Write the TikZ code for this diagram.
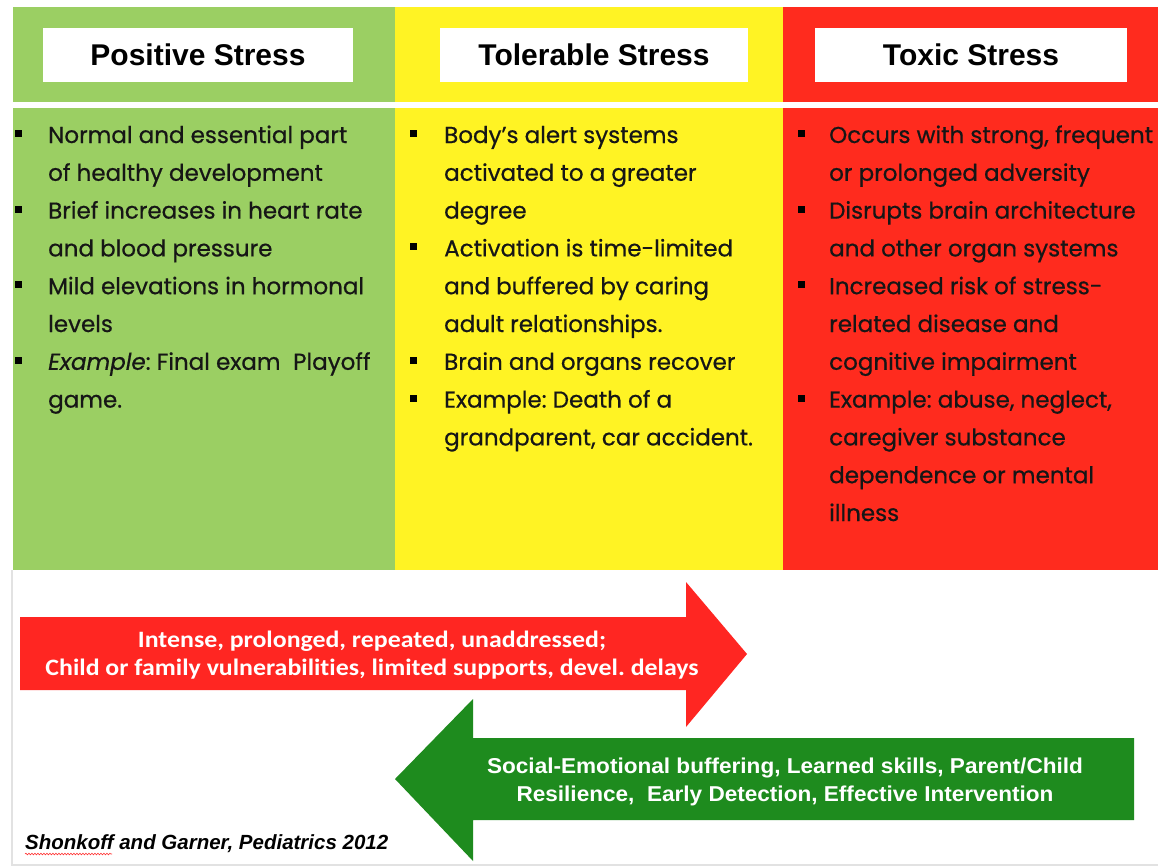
\documentclass[tikz,border=0pt]{standalone}
\usepackage{fontspec}
\setmainfont{Liberation Sans}
\newfontfamily\bodyfont{Poppins}[FakeBold=0.6]
\newfontfamily\arrowfont{Carlito}[FakeStretch=1.1,RawFeature=-liga]
\newfontfamily\garrowfont{Liberation Sans}[FakeStretch=1.05]
\usetikzlibrary{decorations.pathmorphing}
\definecolor{pgreen}{HTML}{9BCF63}
\definecolor{pyellow}{HTML}{FFF324}
\definecolor{pred}{HTML}{FF2B1E}
\definecolor{ared}{HTML}{FF2622}
\definecolor{agreen}{HTML}{1E8B1E}
\definecolor{txtdark}{HTML}{161616}
\definecolor{framegray}{HTML}{E2E2E2}
\newcommand\txtline[4]{\node[bodytxt] (#1) at (#2,{143+37.8*#3}) {#4};}
\newcommand\bulmark[3]{\node[bulbox] (#1) at (#2,{133.5+37.8*#3}) {};}
\frenchspacing
\begin{document}
\begin{tikzpicture}[x=1pt,y=-1pt,
  bodytxt/.style={anchor=base west,inner sep=0pt,text=txtdark,font=\bodyfont\fontsize{23}{28}\selectfont},
  bulbox/.style={rectangle,fill=black,inner sep=0pt,minimum size=7pt},
  hdrbox/.style={fill=white,inner sep=0pt,minimum height=54pt,font=\bfseries\fontsize{30}{34}\selectfont,text=black},
  arrowtxt/.style={align=center,inner sep=0pt,text=white}]
\useasboundingbox (0,0) rectangle (1158,867);
\fill[white] (0,0) rectangle (1158,867);
% frame
\draw[framegray,line width=1.5pt] (12,570) -- (12,865) -- (1158,865);
% panels
\fill[pgreen] (13,7) rectangle (395,102);
\fill[pgreen] (13,108) rectangle (395,570);
\fill[pyellow] (395,7) rectangle (783,102);
\fill[pyellow] (395,108) rectangle (783,570);
\fill[pred] (783,7) rectangle (1158,102);
\fill[pred] (783,108) rectangle (1158,570);
% headers
\node[hdrbox,minimum width=310pt] (h1) at (198,55) {Positive Stress};
\node[hdrbox,minimum width=308pt] (h2) at (594,55) {Tolerable Stress};
\node[hdrbox,minimum width=312pt] (h3) at (971,55) {Toxic Stress};
% green column
\bulmark{gb0}{18.5}{0}\txtline{g0}{48}{0}{Normal and essential part}
\txtline{g1}{48}{1}{of healthy development}
\bulmark{gb2}{18.5}{2}\txtline{g2}{48}{2}{Brief increases in heart rate}
\txtline{g3}{48}{3}{and blood pressure}
\bulmark{gb4}{18.5}{4}\txtline{g4}{48}{4}{Mild elevations in hormonal}
\txtline{g5}{48}{5}{levels}
\bulmark{gb6}{18.5}{6}\txtline{g6}{48}{6}{\textit{Example}: Final exam\hspace{0.55em}Playoff}
\txtline{g7}{48}{7}{game.}
% yellow column
\bulmark{yb0}{413.5}{0}\txtline{y0}{444}{0}{Body’s alert systems}
\txtline{y1}{444}{1}{activated to a greater}
\txtline{y2}{444}{2}{degree}
\bulmark{yb3}{413.5}{3}\txtline{y3}{444}{3}{Activation is time-limited}
\txtline{y4}{444}{4}{and buffered by caring}
\txtline{y5}{444}{5}{adult relationships.}
\bulmark{yb6}{413.5}{6}\txtline{y6}{444}{6}{Brain and organs recover}
\bulmark{yb7}{413.5}{7}\txtline{y7}{444}{7}{Example: Death of a}
\txtline{y8}{444}{8}{grandparent, car accident.}
% red column
\bulmark{rb0}{801}{0}\txtline{r0}{829}{0}{Occurs with strong, frequent}
\txtline{r1}{829}{1}{or prolonged adversity}
\bulmark{rb2}{801}{2}\txtline{r2}{829}{2}{Disrupts brain architecture}
\txtline{r3}{829}{3}{and other organ systems}
\bulmark{rb4}{801}{4}\txtline{r4}{829}{4}{Increased risk of stress-}
\txtline{r5}{829}{5}{related disease and}
\txtline{r6}{829}{6}{cognitive impairment}
\bulmark{rb7}{801}{7}\txtline{r7}{829}{7}{Example: abuse, neglect,}
\txtline{r8}{829}{8}{caregiver substance}
\txtline{r9}{829}{9}{dependence or mental}
\txtline{r10}{829}{10}{illness}
% red arrow
\fill[ared] (20,617) -- (686,617) -- (686,582) -- (747,654) -- (686,727) -- (686,690) -- (20,690) -- cycle;
\node[arrowtxt,font=\arrowfont\bfseries\fontsize{23.5}{28}\selectfont] (ra) at (372,655)
  {Intense, prolonged, repeated, unaddressed;\\Child or family vulnerabilities, limited supports, devel. delays};
% green arrow
\fill[agreen] (1134,738) -- (473,738) -- (473,699) -- (395,779) -- (473,861) -- (473,820) -- (1134,820) -- cycle;
\node[arrowtxt,font=\garrowfont\bfseries\fontsize{21.5}{28}\selectfont] (ga) at (785,782)
  {Social-Emotional buffering, Learned skills, Parent/Child\\Resilience,\ \ Early Detection, Effective Intervention};
% citation
\node[anchor=base west,inner sep=0pt,font=\bfseries\itshape\fontsize{20.5}{24}\selectfont] (cite) at (25,849)
  {Shonkoff and Garner, Pediatrics 2012};
\draw[red!80,line width=0.6pt,decorate,decoration={snake,amplitude=0.8pt,segment length=3pt}] (25,854) -- (112,854);
\end{tikzpicture}
\end{document}
